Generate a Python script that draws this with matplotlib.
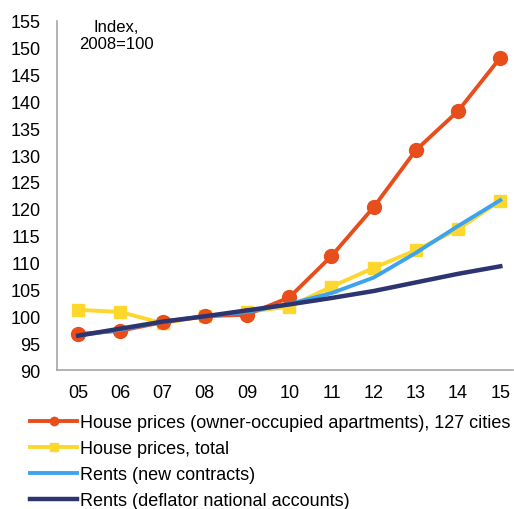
import numpy as np
import matplotlib.pyplot as plt

plt.rcParams['font.family'] = ['Liberation Sans', 'DejaVu Sans']

# data
years = ['05', '06', '07', '08', '09', '10', '11', '12', '13', '14', '15']
owner_occupied = [96.7, 97.3, 98.9, 100.0, 100.3, 103.5, 111.2, 120.3, 130.9, 138.2, 148.1]
house_total = [101.2, 100.8, 98.7, 100.0, 100.8, 101.8, 105.5, 109.0, 112.3, 116.2, 121.5]
rents_new = [96.4, 97.5, 99.0, 100.0, 100.8, 102.3, 104.3, 107.2, 111.8, 116.8, 121.6]
rents_deflator = [96.4, 97.7, 99.0, 100.0, 101.1, 102.2, 103.4, 104.7, 106.3, 107.9, 109.3]

x = np.arange(len(years))

fig = plt.figure(figsize=(5.14, 5.10), dpi=100)
ax = fig.add_axes([0.111, 0.2725, 0.887, 0.685])

ax.plot(x, owner_occupied, color='#E84E1B', lw=2.8, marker='o', ms=10,
        label='House prices (owner-occupied apartments), 127 cities', zorder=3)
ax.plot(x, house_total, color='#FDD72C', lw=2.8, marker='s', ms=9,
        label='House prices, total', zorder=2)
ax.plot(x, rents_new, color='#3CA3F0', lw=2.8,
        label='Rents (new contracts)', zorder=4)
ax.plot(x, rents_deflator, color='#2D3571', lw=3.2,
        label='Rents (deflator national accounts)', zorder=5)

ax.set_xlim(-0.5, 10.3)
ax.set_ylim(90, 155)
ax.set_yticks(np.arange(90, 156, 5))
ax.set_xticks(x)
ax.set_xticklabels(years)
ax.tick_params(length=0, labelsize=13, pad=10)
ax.tick_params(axis='y', pad=12)
for s in ['top', 'right']:
    ax.spines[s].set_visible(False)
for s in ['left', 'bottom']:
    ax.spines[s].set_color('#A6A6A6')
    ax.spines[s].set_linewidth(1.2)

ax.text(0.9, 155.3, 'Index,\n2008=100', ha='center', va='top', fontsize=12,
        linespacing=1.15)

fig.legend(loc='upper left', bbox_to_anchor=(0.045, 0.2), frameon=False,
           fontsize=13, handlelength=2.6, handletextpad=0.15, labelspacing=0.5,
           markerscale=0.6, borderaxespad=0)

fig.savefig('out.png', dpi=100)
